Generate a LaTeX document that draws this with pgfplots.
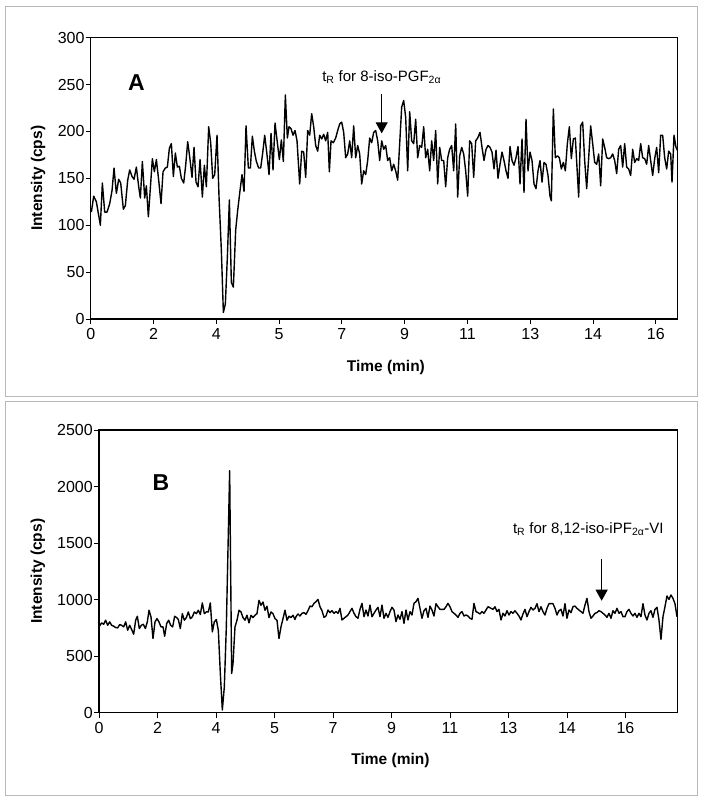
\documentclass[border=0pt]{standalone}
\usepackage{fontspec}
\setmainfont{Liberation Sans}
\usepackage{pgfplots}
\pgfplotsset{compat=1.18}
\usetikzlibrary{arrows.meta}
\pgfplotsset{panel/.style={
  scale only axis,
  axis line style={line width=1.3pt},
  tick align=outside, xtick pos=bottom, ytick pos=left,
  major tick length=5pt,
  tick style={black, line width=0.8pt},
  ticklabel style={font=\fontsize{16}{18}\selectfont},
  yticklabel style={inner sep=1pt},
  xticklabel style={inner sep=4.5pt},
  /pgf/number format/assume math mode=true,
  /pgf/number format/1000 sep={},
  label style={font=\bfseries\fontsize{15.5}{17}\selectfont},
  trace/.style={black, line width=1.4pt, line join=round, mark=none},
}}
\begin{document}
\begin{tikzpicture}
\path[use as bounding box] (0,0) rectangle (702pt,799pt);
\draw[black!28, line width=0.9pt] (5pt,403pt) rectangle (697pt,793pt);
\draw[black!28, line width=0.9pt] (5pt,4pt) rectangle (697pt,398pt);
% ---------- Panel A ----------
\begin{axis}[panel,
  at={(90.7pt,480pt)}, anchor=south west,
  width=586.8pt, height=281.3pt,
  xmin=272, xmax=2032.5, ymin=0, ymax=300,
  xtick={272,460.4,648.8,837.2,1025.6,1214,1402.4,1590.8,1779.2,1967.6},
  xticklabels={0,2,4,5,7,9,11,13,14,16},
  ytick={0,50,...,300},
  xlabel={Time (min)}, ylabel={Intensity (cps)},
  xlabel style={at={(axis description cs:0.503,-0.172)}, anchor=center},
  ylabel style={at={(axis description cs:-0.0898,0.5)}, anchor=center},
]
\addplot[trace] coordinates {
(274,114) (281,131) (289,125) (301,100) (307,145) (314,114) (321,114) (329,123) (336,137) (342,161)
(349,134) (356,149) (362,145) (370,117) (376,121) (383,148) (389,159) (396,152) (402,149) (409,162)
(416,141) (421,129) (427,168) (434,129) (439,142) (445,109) (452,145) (457,171) (463,157) (469,170)
(476,148) (483,123) (489,157) (496,161) (502,162) (508,182) (514,187) (520,152) (526,177) (532,162)
(538,163) (544,150) (551,145) (557,164) (563,189) (569,173) (576,151) (582,183) (588,146) (594,141)
(600,170) (607,130) (613,164) (619,141) (626,205) (632,188) (638,150) (644,154) (651,196) (657,130)
(664,73) (670,7) (676,16) (682,66) (688,127) (694,39) (700,34) (707,95) (713,116) (720,137)
(726,154) (732,136) (738,206) (745,161) (751,161) (757,195) (763,179) (769,168) (776,161) (782,161)
(788,177) (794,196) (801,175) (807,154) (813,198) (819,159) (825,209) (832,188) (838,170) (844,191)
(850,168) (856,239) (862,193)
(867,205) (873,203) (879,196) (885,201) (891,190) (899,144) (905,179) (911,178) (917,151) (923,201)
(929,196) (935,219) (941,205) (947,185) (953,179) (959,196) (965,192) (971,197) (977,190) (983,199)
(988,157) (993,190) (1000,188) (1007,193) (1013,201) (1019,208) (1025,210) (1031,199) (1037,172) (1043,176)
(1049,190) (1055,172) (1061,206) (1067,172) (1073,185) (1079,176) (1085,144) (1091,158) (1097,154) (1103,169)
(1109,193) (1115,188) (1121,199) (1127,201) (1133,190) (1139,169) (1145,190) (1151,181) (1157,185) (1163,169)
(1169,172) (1175,158) (1181,165) (1187,158) (1193,148) (1199,187) (1205,226) (1211,233) (1217,215) (1223,158)
(1229,221) (1235,190) (1241,187) (1247,213) (1253,172) (1259,185) (1265,183) (1271,205) (1277,172) (1283,181)
(1289,158) (1295,190) (1301,169) (1307,201) (1313,144) (1319,183) (1325,169) (1331,169) (1337,141) (1343,172)
(1349,181) (1355,185) (1361,158) (1367,208) (1373,130) (1379,174) (1385,183) (1391,176) (1397,158) (1403,131)
(1409,190) (1415,187) (1421,151) (1427,190) (1433,193)
(1440,199) (1446,183) (1452,169) (1458,181) (1464,185) (1470,183) (1476,178) (1482,160) (1488,180) (1494,150)
(1500,165) (1506,178) (1512,169) (1518,158) (1524,150) (1530,184) (1536,169) (1542,164) (1548,172) (1554,184)
(1560,144) (1566,192) (1572,135) (1578,213) (1584,158) (1590,178) (1596,169) (1602,144) (1608,139) (1614,158)
(1620,169) (1626,146) (1632,167) (1638,165) (1644,153) (1650,131) (1654,126) (1660,224) (1666,172) (1672,174)
(1678,172) (1684,160) (1690,167) (1696,158) (1702,187) (1708,205) (1714,171) (1720,192) (1726,193) (1732,155)
(1736,130) (1742,206) (1748,210) (1754,169) (1760,139) (1766,172) (1772,206) (1778,187) (1784,167) (1790,165)
(1796,176) (1802,142) (1808,192) (1814,183) (1820,172) (1826,171) (1832,172) (1838,176) (1844,169) (1850,155)
(1856,181) (1862,185) (1868,162) (1874,187) (1880,162) (1886,160) (1892,153) (1898,181) (1904,167) (1910,171)
(1916,169) (1922,187) (1928,172) (1934,171) (1940,165) (1946,185) (1952,169) (1958,153) (1964,171) (1970,183)
(1976,156) (1982,196) (1988,196) (1994,172) (2000,160) (2006,179) (2012,176) (2016,146) (2022,196) (2028,183)
(2032,180)
};
\node[font=\bfseries\fontsize{23}{23}\selectfont] at (axis cs:409.5,252) {A};
\node[anchor=base, font=\fontsize{15}{17}\selectfont] at (axis cs:1145,253.5) {t\textsubscript{R} for 8-iso-PGF\textsubscript{2α}};
\draw[line width=0.9pt, -{Triangle[length=11pt,width=12pt]}] (axis cs:1145,240) -- (axis cs:1145,198);
\end{axis}
% ---------- Panel B ----------
\begin{axis}[panel,
  at={(99pt,86.3pt)}, anchor=south west,
  width=578.3pt, height=282.7pt,
  xmin=297, xmax=2032, ymin=0, ymax=2500,
  xtick={297,472.5,648,823.5,999,1174.5,1350,1525.5,1701,1876.5},
  xticklabels={0,2,4,5,7,9,11,13,14,16},
  ytick={0,500,...,2500},
  xlabel={Time (min)}, ylabel={Intensity (cps)},
  xlabel style={at={(axis description cs:0.504,-0.169)}, anchor=center},
  ylabel style={at={(axis description cs:-0.1055,0.5)}, anchor=center},
]
\addplot[trace] coordinates {
(297,760) (300,773) (305,794) (311,782) (317,818) (323,773) (329,803) (335,773) (341,765) (347,753) (353,750)
(359,779) (365,773) (371,759) (377,803) (383,729) (389,773) (395,735) (401,694) (407,818) (412,853)
(418,744) (424,773) (430,782) (436,744) (442,803) (447,906) (453,847) (459,656) (465,803) (471,832)
(477,803) (483,759) (489,759) (494,676) (500,788) (506,818) (512,773) (518,759) (524,853) (530,841)
(535,824) (541,744) (547,876) (553,818) (559,841) (565,891) (571,832) (577,847) (583,891) (589,876)
(595,906) (601,868) (607,971) (613,876) (619,891) (625,891) (631,971) (637,715) (643,803) (649,824)
(655,729) (661,347) (667,24) (673,229) (679,759) (689,2140) (695,347) (699,435) (705,759) (711,818)
(717,906) (723,891) (729,841) (735,818) (741,862) (747,794) (753,862) (759,841) (765,862) (771,876)
(777,994) (783,950) (789,979) (795,906) (801,941) (807,841) (813,891) (819,876) (825,832) (831,818)
(837,656) (843,759) (849,832) (855,906) (861,818) (867,853) (873,841) (879,862) (885,824)
(888,849) (894,873) (900,855) (906,879) (912,885) (918,870) (924,902) (930,943) (936,937) (942,967)
(948,982) (954,1002) (960,937) (966,902) (972,843) (978,855) (984,908) (990,885) (996,902) (1002,879)
(1008,894) (1014,879) (1020,923) (1026,820) (1032,835) (1038,849) (1044,864) (1050,894) (1056,923) (1062,879)
(1068,849) (1074,835) (1080,914) (1086,967) (1092,849) (1098,908) (1104,855) (1110,952) (1116,849) (1122,879)
(1128,908) (1134,932) (1140,849) (1146,952) (1152,835) (1158,879) (1164,843) (1170,894) (1176,932) (1182,908)
(1188,805) (1194,864) (1200,826) (1206,894) (1212,790) (1218,908) (1224,820) (1230,894) (1236,864) (1242,967)
(1248,982) (1254,1011) (1260,923) (1266,835) (1272,902) (1278,923) (1284,843) (1290,943) (1296,908) (1302,855)
(1308,964) (1314,937) (1320,914) (1326,914) (1332,914) (1338,937) (1344,967) (1350,937) (1356,894) (1362,879)
(1368,864) (1374,843) (1380,879) (1386,894) (1392,855) (1398,864) (1404,855) (1410,835) (1416,826) (1422,967)
(1428,894) (1434,885) (1440,873) (1446,894) (1452,879) (1458,908) (1464,937)
(1473,923) (1479,914) (1485,937) (1491,894) (1497,914) (1503,820) (1509,879) (1515,855) (1521,902) (1527,864)
(1533,894) (1539,879) (1545,902) (1551,879) (1557,855) (1563,820) (1569,873) (1575,914) (1581,849) (1587,894)
(1593,932) (1599,908) (1605,923) (1611,964) (1617,894) (1623,937) (1629,894) (1635,864) (1641,923) (1647,964)
(1653,964) (1659,964) (1665,923) (1671,864) (1677,902) (1683,914) (1689,855) (1695,964) (1701,835) (1707,908)
(1713,885) (1719,937) (1725,943) (1731,923) (1737,908) (1743,894) (1749,879) (1755,952) (1761,1011) (1767,894)
(1773,835) (1779,855) (1785,879) (1791,885) (1797,902) (1803,894) (1809,879) (1815,864) (1821,843) (1827,879)
(1833,835) (1839,902) (1845,879) (1851,923) (1857,879) (1863,894) (1869,849) (1875,849) (1881,894) (1887,914)
(1893,879) (1899,855) (1905,879) (1911,843) (1917,879) (1923,849) (1929,964) (1935,864) (1941,820) (1947,879)
(1953,902) (1959,843) (1965,914) (1971,932) (1977,820) (1983,648) (1989,849) (1995,937) (2001,1032) (2007,1002)
(2013,1041) (2019,1011) (2025,964) (2031,849)
};
\node[font=\bfseries\fontsize{23}{23}\selectfont] at (axis cs:483,2035) {B};
\node[anchor=base, font=\fontsize{15}{17}\selectfont] at (axis cs:1765,1589) {t\textsubscript{R} for 8,12-iso-iPF\textsubscript{2α}-VI};
\draw[line width=0.9pt, -{Triangle[length=11pt,width=12pt]}] (axis cs:1805,1356) -- (axis cs:1805,990);
\end{axis}
\end{tikzpicture}
\end{document}
